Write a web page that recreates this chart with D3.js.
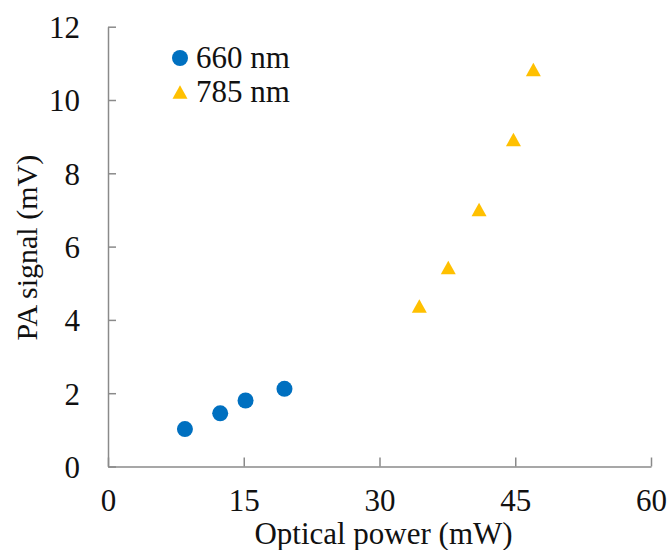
<!DOCTYPE html>
<html>
<head>
<meta charset="utf-8">
<script src="https://cdn.jsdelivr.net/npm/d3@7/dist/d3.min.js"></script>
<style>
  html, body { margin: 0; padding: 0; background: #fff; }
  svg { display: block; }
  svg text { font-family: "Liberation Serif", "Times New Roman", serif; fill: #111; }
</style>
</head>
<body>
<svg id="chart" width="671" height="550"></svg>
<script>
// ---- data ----
const seriesNames = ["660 nm", "785 nm"];
const power660 = [8.5, 12.4, 15.2, 19.5];
const signal660 = [1.02, 1.45, 1.80, 2.12];
const power785 = [34.4, 37.6, 41.0, 44.8, 47.0];
const signal785 = [4.38, 5.43, 7.01, 8.92, 10.83];
const xTicks = [0, 15, 30, 45, 60];
const yTicks = [0, 2, 4, 6, 8, 10, 12];
const xTitle = "Optical power (mW)";
const yTitle = "PA signal (mV)";

// ---- layout ----
const svg = d3.select("#chart");
const mLeft = 108, mRight = 651, mTop = 26.7, mBottom = 466.5;
const x = d3.scaleLinear().domain([0, 60]).range([mLeft, mRight]);
const y = d3.scaleLinear().domain([0, 12]).range([mBottom, mTop]);

const axisColor = "#8a8a8a";
const blue = "#0070C0", gold = "#FFC000";
const serif = "'Liberation Serif', 'Times New Roman', serif";

// custom triangle centered on bounding box
const triSym = {
  draw(ctx, size) {
    const w = 15, h = 13.5;
    ctx.moveTo(0, -h / 2);
    ctx.lineTo(w / 2, h / 2);
    ctx.lineTo(-w / 2, h / 2);
    ctx.closePath();
  }
};

// axes
const xAxis = svg.append("g").attr("transform", `translate(0,${mBottom})`)
  .call(d3.axisBottom(x).tickValues(xTicks).tickSize(-9).tickSizeOuter(0).tickPadding(0).tickFormat(d3.format("d")));
xAxis.attr("font-family", serif);
xAxis.select(".domain").attr("stroke", axisColor).attr("stroke-width", 1.5);
xAxis.selectAll(".tick line").attr("stroke", axisColor).attr("stroke-width", 1.5);
xAxis.selectAll(".tick text").attr("y", 44).attr("dy", 0)
  .style("font-size", "31px").attr("fill", "#111");

const yAxis = svg.append("g").attr("transform", `translate(${mLeft},0)`)
  .call(d3.axisLeft(y).tickValues(yTicks).tickSize(-8).tickSizeOuter(0).tickPadding(0).tickFormat(d3.format("d")));
yAxis.attr("font-family", serif);
yAxis.select(".domain").attr("stroke", axisColor).attr("stroke-width", 1.5);
yAxis.selectAll(".tick line").attr("stroke", axisColor).attr("stroke-width", 1.5);
yAxis.selectAll(".tick text").attr("x", -28).attr("dy", "0.35em")
  .style("font-size", "31px").attr("fill", "#111");

// titles
svg.append("text").attr("x", (mLeft + mRight) / 2 + 4).attr("y", 544)
  .attr("text-anchor", "middle").style("font-size", "31px").text(xTitle);
svg.append("text")
  .attr("transform", `translate(37,${(mTop + mBottom) / 2 + 1}) rotate(-90)`)
  .attr("text-anchor", "middle").style("font-size", "30px").text(yTitle);

// marks
const d660 = power660.map((p, i) => ({ p, s: signal660[i] }));
const d785 = power785.map((p, i) => ({ p, s: signal785[i] }));

svg.append("g").selectAll("circle").data(d660).join("circle")
  .attr("cx", d => x(d.p)).attr("cy", d => y(d.s)).attr("r", 8).attr("fill", blue);

svg.append("g").selectAll("path").data(d785).join("path")
  .attr("d", d3.symbol().type(triSym)())
  .attr("transform", d => `translate(${x(d.p)},${y(d.s)})`)
  .attr("fill", gold);

// legend
const lg = svg.append("g");
lg.append("circle").attr("cx", 180).attr("cy", 58).attr("r", 8).attr("fill", blue);
lg.append("text").attr("x", 196).attr("y", 68).style("font-size", "31px").text(seriesNames[0]);
lg.append("path").attr("d", d3.symbol().type(triSym)()).attr("transform", "translate(180,92)").attr("fill", gold);
lg.append("text").attr("x", 196).attr("y", 102).style("font-size", "31px").text(seriesNames[1]);
</script>
</body>
</html>
